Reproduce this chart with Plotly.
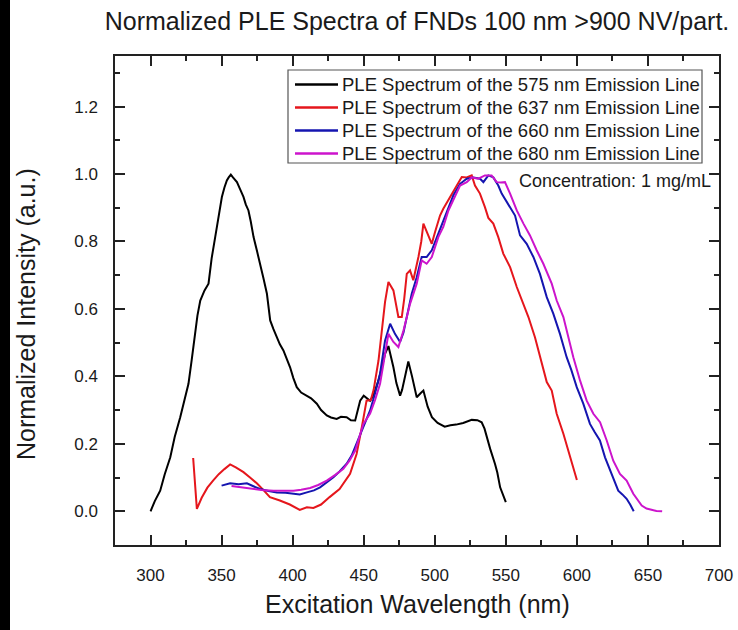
import plotly.graph_objects as go

# ---- data ----
names = ["PLE Spectrum of the 575 nm Emission Line",
         "PLE Spectrum of the 637 nm Emission Line",
         "PLE Spectrum of the 660 nm Emission Line",
         "PLE Spectrum of the 680 nm Emission Line"]
colors = ["#000000", "#e5161c", "#1515b0", "#cc14cc"]

x575 = [300, 303, 306.8, 310, 313.9, 317, 320.9, 324, 326.7, 329, 331.4, 333, 335, 338, 340.8, 343, 345.5, 348,
        350.2, 352, 353.7, 355, 356.5, 358, 360.8, 363, 365.4, 367, 368.9, 370.5, 372.5, 375, 377.2, 379.5, 381.9,
        384.2, 386.5, 388.9, 391, 393.5, 396, 398.2, 400.5, 402.9, 406, 410, 413, 417, 420, 424, 427, 431, 434, 438,
        441, 444, 446, 447.5, 450, 452, 454.5, 457, 460.4, 463, 465, 467.4, 469, 470.9, 473, 475.6, 477, 479, 481.4,
        484, 487.3, 490, 492, 495, 498, 502, 507, 511, 515, 520, 526, 530, 533, 535, 536.6, 539, 542.4, 544, 546,
        548, 550]
y575 = [0.0, 0.03, 0.061, 0.11, 0.16, 0.22, 0.279, 0.33, 0.378, 0.45, 0.526, 0.58, 0.625, 0.655, 0.675, 0.75, 0.813,
        0.88, 0.932, 0.96, 0.981, 0.99, 0.998, 0.99, 0.976, 0.955, 0.932, 0.91, 0.892, 0.86, 0.813, 0.77, 0.734,
        0.69, 0.645, 0.566, 0.54, 0.516, 0.495, 0.477, 0.45, 0.427, 0.395, 0.368, 0.352, 0.343, 0.335, 0.319, 0.3,
        0.284, 0.278, 0.274, 0.28, 0.279, 0.27, 0.269, 0.3, 0.328, 0.343, 0.335, 0.328, 0.345, 0.388, 0.43, 0.467,
        0.49, 0.465, 0.427, 0.38, 0.343, 0.36, 0.398, 0.444, 0.4, 0.338, 0.35, 0.358, 0.31, 0.279, 0.262, 0.251,
        0.255, 0.257, 0.262, 0.271, 0.27, 0.264, 0.245, 0.22, 0.185, 0.14, 0.115, 0.071, 0.05, 0.027]

x637 = [330, 332.6, 336, 340, 344, 348, 352, 356, 360, 365.4, 370, 374.8, 379, 384, 391, 398, 405, 410, 414.6, 420,
        426, 433, 440.4, 445, 448.7, 452, 455, 457, 460.4, 463, 465, 467.4, 470.9, 474.4, 476.8, 478.5, 480.3, 482.6,
        484.9, 488.5, 490.5, 492, 495.5, 497.9, 500.2, 503.7, 506, 510.8, 515.5, 519, 522.5, 526, 528.3, 531.8,
        535.3, 537.7, 541.2, 544.7, 548.2, 553, 557.7, 561.2, 565.9, 570.5, 574, 578.8, 582.3, 585.8, 590.5, 595.2,
        600]
y637 = [0.158, 0.007, 0.04, 0.07, 0.091, 0.11, 0.125, 0.139, 0.13, 0.116, 0.1, 0.083, 0.065, 0.042, 0.032, 0.02,
        0.004, 0.012, 0.01, 0.02, 0.042, 0.066, 0.111, 0.17, 0.25, 0.328, 0.33, 0.36, 0.447, 0.55, 0.62, 0.68, 0.655,
        0.576, 0.576, 0.63, 0.704, 0.714, 0.685, 0.754, 0.8, 0.853, 0.818, 0.793, 0.828, 0.877, 0.897, 0.932, 0.966,
        0.991, 0.99, 0.996, 0.966, 0.942, 0.902, 0.87, 0.853, 0.813, 0.764, 0.724, 0.665, 0.625, 0.576, 0.516,
        0.457, 0.383, 0.358, 0.289, 0.23, 0.16, 0.093]

x660 = [350, 356, 362, 367.8, 372, 377, 383, 388.9, 395, 400.6, 405, 410, 415, 419.3, 424, 428.7, 433, 438, 441.5,
        445, 449.8, 454.5, 458, 461.5, 465, 468.6, 472, 475.6, 478, 480.3, 483.8, 487.3, 490.8, 494.3, 497.9, 502.5,
        506, 509.6, 513.1, 517.8, 522.5, 527.2, 531.9, 534.2, 537.7, 541.2, 544.7, 547.1, 553, 556.5, 560, 564.7,
        569.4, 574, 578.8, 583.4, 588.1, 592.8, 596, 599.9, 604.5, 609.2, 612.5, 616.2, 619.8, 624.5, 629.1, 632,
        635, 637.5, 640]
y660 = [0.076, 0.083, 0.08, 0.083, 0.075, 0.066, 0.06, 0.056, 0.055, 0.052, 0.05, 0.056, 0.062, 0.071, 0.085, 0.101,
        0.118, 0.141, 0.165, 0.2, 0.249, 0.299, 0.35, 0.408, 0.506, 0.556, 0.526, 0.502, 0.53, 0.576, 0.645, 0.694,
        0.754, 0.754, 0.774, 0.823, 0.862, 0.902, 0.937, 0.971, 0.986, 0.99, 0.986, 0.976, 0.996, 0.99, 0.966,
        0.942, 0.902, 0.877, 0.818, 0.793, 0.754, 0.704, 0.635, 0.586, 0.526, 0.457, 0.42, 0.368, 0.319, 0.259,
        0.235, 0.21, 0.16, 0.111, 0.061, 0.05, 0.037, 0.02, 0.0]

x680 = [357, 362, 367, 372.5, 378, 386.5, 393, 400.6, 406, 412.3, 418, 424, 430, 435.7, 440, 444, 449.8, 454.5, 458,
        461.5, 464, 466.3, 467.4, 470.9, 474.4, 478, 482.6, 487.3, 490.8, 494.3, 497.9, 502.5, 506, 509.6, 514.3,
        517.8, 522.5, 526, 530.7, 535.3, 540, 543.6, 546.5, 549.4, 553, 557.7, 562.4, 567, 571.7, 576.4, 582.3,
        585.8, 590.5, 594, 597.5, 602.2, 606.9, 611.6, 616.3, 621, 625.6, 630.3, 635, 639.7, 642.5, 645.6, 649,
        652.6, 656, 660]
y680 = [0.075, 0.072, 0.07, 0.066, 0.063, 0.061, 0.06, 0.061, 0.064, 0.069, 0.078, 0.091, 0.108, 0.126, 0.15, 0.18,
        0.259, 0.29, 0.33, 0.378, 0.44, 0.506, 0.526, 0.502, 0.487, 0.536, 0.615, 0.675, 0.744, 0.734, 0.754, 0.813,
        0.843, 0.892, 0.932, 0.966, 0.976, 0.99, 0.986, 0.996, 0.996, 0.976, 0.975, 0.976, 0.942, 0.892, 0.853,
        0.818, 0.774, 0.734, 0.675, 0.625, 0.576, 0.516, 0.457, 0.388, 0.328, 0.289, 0.264, 0.21, 0.15, 0.111,
        0.091, 0.052, 0.035, 0.017, 0.008, 0.004, 0.001, 0.0]

x_tickvals = [300, 350, 400, 450, 500, 550, 600, 650, 700]
y_tickvals = [0.0, 0.2, 0.4, 0.6, 0.8, 1.0, 1.2]

title_text = "Normalized PLE Spectra of FNDs 100 nm >900 NV/part."
xtitle = "Excitation Wavelength (nm)"
ytitle = "Normalized Intensity (a.u.)"
note = "Concentration: 1 mg/mL"

FONT = "Liberation Sans, Arial, sans-serif"
TXT = "#1a1a1a"

fig = go.Figure()
for xs, ys, nm, c in zip([x575, x637, x660, x680], [y575, y637, y660, y680], names, colors):
    fig.add_trace(go.Scatter(x=xs, y=ys, mode="lines", name=nm, showlegend=False,
                             line=dict(color=c, width=2)))

W, H = 738, 630
L, R, T, B = 115, 19, 56, 85
pw, ph = W - L - R, H - T - B
STRIP = 10  # width of the dark band at the left edge of the picture

def px(xp):
    return (xp - L) / pw

def py(yp):
    return (H - B - yp) / ph

axis_common = dict(showgrid=False, zeroline=False, showline=True, linecolor="#222222", linewidth=1.5,
                   mirror="allticks", ticks="inside", ticklen=10, tickwidth=1.5, tickcolor="#222222",
                   automargin=False,
                   tickfont=dict(family=FONT, size=17, color=TXT))

fig.update_xaxes(range=[275, 700], tickmode="array", tickvals=x_tickvals,
                 ticklabelstandoff=14,
                 minor=dict(dtick=25, tick0=275, ticks="inside", ticklen=5, tickwidth=1.5, tickcolor="#222222"),
                 **axis_common)
fig.update_yaxes(range=[-0.1, 1.35], tickmode="array", tickvals=y_tickvals,
                 ticktext=[f"{v:.1f}" for v in y_tickvals], ticklabelstandoff=12,
                 minor=dict(dtick=0.1, tick0=0, ticks="inside", ticklen=5, tickwidth=1.5, tickcolor="#222222"),
                 **axis_common)

# page background: black, covered in white except for a thin strip at the left edge
shapes = [dict(type="rect", xref="paper", yref="paper", x0=px(STRIP), x1=px(W + 5), y0=py(H + 5), y1=py(-5),
               fillcolor="white", line=dict(width=0), layer="below")]

# legend box (drawn in paper coordinates), entries in the traces' order
leg_left, leg_right, leg_top, leg_bottom = 288, 702, 70, 163
row_y = [84.5, 107.5, 130.5, 153.5]
shapes.append(dict(type="rect", xref="paper", yref="paper", x0=px(leg_left), x1=px(leg_right),
                   y0=py(leg_bottom), y1=py(leg_top), fillcolor="white",
                   line=dict(color="#555555", width=1.2), layer="above"))
annotations = []
for nm, c, ry in zip(names, colors, row_y):
    shapes.append(dict(type="line", xref="paper", yref="paper", x0=px(295), x1=px(338),
                       y0=py(ry), y1=py(ry), line=dict(color=c, width=2.5), layer="above"))
    annotations.append(dict(text=nm, xref="paper", yref="paper", x=px(340), y=py(ry),
                            xanchor="left", yanchor="middle", showarrow=False,
                            font=dict(family=FONT, size=18.5, color=TXT)))

annotations += [
    dict(text=xtitle, xref="paper", yref="paper", x=px(417), y=py(604), xanchor="center", yanchor="middle",
         showarrow=False, font=dict(family=FONT, size=25, color=TXT)),
    dict(text=ytitle, xref="paper", yref="paper", x=px(26), y=py(314), xanchor="center", yanchor="middle",
         textangle=-90, showarrow=False, font=dict(family=FONT, size=25, color=TXT)),
    dict(text=note, xref="paper", yref="paper", x=px(713), y=py(181), xanchor="right", yanchor="middle",
         showarrow=False, font=dict(family=FONT, size=18, color=TXT)),
]

fig.update_layout(
    width=W, height=H, margin=dict(l=L, r=R, t=T, b=B),
    paper_bgcolor="#000000", plot_bgcolor="white",
    font=dict(family=FONT, color=TXT),
    title=dict(text=title_text, xref="paper", x=px(417), xanchor="center",
               yref="container", y=1 - 21 / H, yanchor="middle",
               font=dict(family=FONT, size=25, color=TXT)),
    showlegend=False,
    annotations=annotations,
    shapes=shapes,
)

fig.write_html("out.html")
